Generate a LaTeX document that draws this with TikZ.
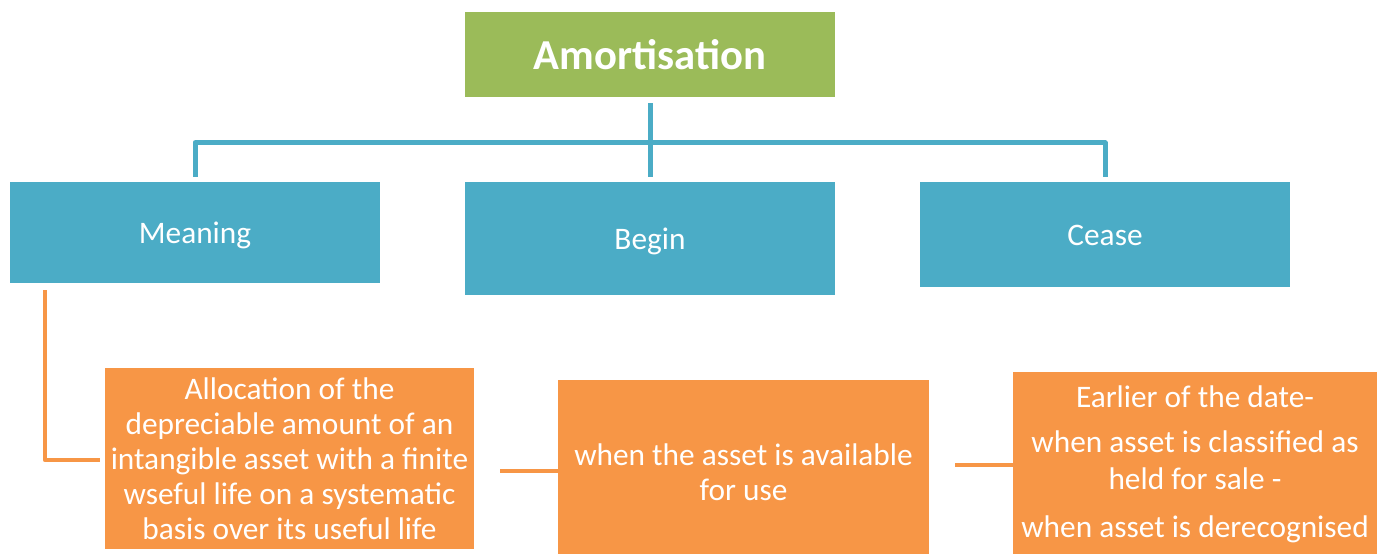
\documentclass[tikz,border=0pt]{standalone}
\usepackage{fontspec}
\setmainfont{Carlito}
\usetikzlibrary{calc}
\definecolor{headgreen}{HTML}{9BBB59}
\definecolor{topicblue}{HTML}{4BACC6}
\definecolor{detailorange}{HTML}{F79646}

\newcommand{\lowered}[2]{\raisebox{-#1}[\height][\depth]{\begin{tabular}{@{}c@{}}#2\end{tabular}}}

\begin{document}
\begin{tikzpicture}[x=0.75pt,y=-0.75pt,
                    box/.style={rectangle,draw=none,text=white,align=center,inner sep=0pt,
                                font={\fontsize{23.5}{26.25}\selectfont}},
                    head/.style={box,fill=headgreen,font={\bfseries\fontsize{32}{36}\selectfont}},
                    topic/.style={box,fill=topicblue,minimum width=277.5pt,text depth=0pt},
                    detail/.style={box,fill=detailorange},
                    link/.style={draw=topicblue,line width=3.75pt,line join=round},
                    flow/.style={draw=detailorange,line width=3pt,line join=round}]
            \useasboundingbox (0,0) rectangle (1377,554);

            \node[head,minimum width=277.5pt,minimum height=63.75pt] (amortisation) at (650,54.5) {Amortisation};

            \node[topic,minimum height=75.75pt] (meaning) at (195,232.5) {Meaning};
            \node[topic,minimum height=84.75pt] (begin) at (650,238.5) {Begin};
            \node[topic,minimum height=78.75pt,text height=16pt] (cease) at (1105,234.5) {Cease};

            \node[detail,minimum width=276.75pt,minimum height=135.75pt] (allocation) at (289.5,458.5) {
                Allocation of the\\
                depreciable amount of an\\
                intangible asset with a finite\\
                wseful life on a systematic\\
                basis over its useful life
            };

            \node[detail,minimum width=278.25pt,minimum height=130.5pt] (available) at (743.5,467) {%
                \lowered{6.5pt}{when the asset is available\\
                for use}%
            };

            \node[detail,minimum width=273pt,minimum height=136.5pt] (earlier) at (1195,463) {%
                \lowered{2pt}{Earlier of the date-\\[7.5pt]
                when asset is classified as\\[1.5pt]
                held for sale -\\[9.75pt]
                when asset is derecognised}%
            };

            \draw[link] ($ (amortisation.south) + (0,6) $) -- ($ (begin.north) + (0,-5) $);
            \draw[link] ($ (meaning.north) + (0,-5) $) -- ++(0,-34) -| ($ (cease.north) + (0,-5) $);

            \draw[flow] ($ (meaning.south west) + (35,7) $) |- ($ (allocation.west) + (-5,1.5) $);
            \draw[flow] ($ (available.west) + (0,4) $) -- ++(-58,0);
            \draw[flow] ($ (earlier.west) + (0,2) $) -- ++(-58,0);
        \end{tikzpicture}
\end{document}
